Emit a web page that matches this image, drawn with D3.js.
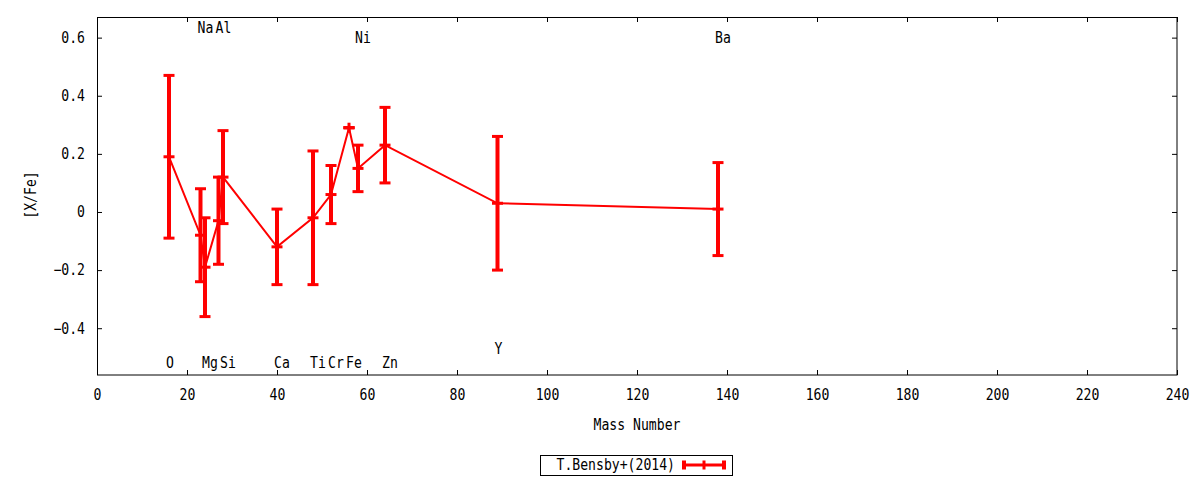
<!DOCTYPE html>
<html>
<head>
<meta charset="utf-8">
<script src="https://cdn.jsdelivr.net/npm/d3@7"></script>
<style>
  body { margin: 0; background: #fff; }
  svg text { font-family: "DejaVu Sans Mono", monospace; font-size: 15px; fill: #000; }
</style>
</head>
<body>
<div id="chart"></div>
<script>
// element abundances, T.Bensby+(2014)
var elements = ["O", "Na", "Mg", "Al", "Si", "Ca", "Ti", "Cr", "Fe", "Ni", "Zn", "Y", "Ba"];
var massNumbers = [16, 23, 24, 27, 28, 40, 48, 52, 56, 58, 64, 89, 138];
var xfeValues = [0.19, -0.08, -0.19, -0.03, 0.12, -0.12, -0.02, 0.06, 0.29, 0.15, 0.23, 0.03, 0.01];
var xfeErrors = [0.28, 0.16, 0.17, 0.15, 0.16, 0.13, 0.23, 0.10, 0.0, 0.08, 0.13, 0.23, 0.16];
// where each element name sits on the [X/Fe] scale
var labelLevels = [-0.52, 0.635, -0.52, 0.635, -0.52, -0.52, -0.52, -0.52, -0.52, 0.60, -0.52, -0.47, 0.60];

var xTicks = [0, 20, 40, 60, 80, 100, 120, 140, 160, 180, 200, 220, 240];
var yTicks = [-0.4, -0.2, 0, 0.2, 0.4, 0.6];
var seriesName = "T.Bensby+(2014)";

var svgWidth = 1200;
var svgHeight = 480;
var charWidth = 7.9;

var margin = {
   top: 17,
   right: 23,
   bottom: 105,
   left: 97
};

var width = svgWidth - margin.left - margin.right;
var height = svgHeight - margin.top - margin.bottom;

var svg = d3.select("#chart")
   .append("svg")
   .attr("width", svgWidth)
   .attr("height", svgHeight);

var chartGroup = svg.append("g")
   .attr("transform", `translate(${margin.left}, ${margin.top})`);

var data = elements.map(function (el, i) {
   return { name: el, mass: massNumbers[i], value: xfeValues[i], err: xfeErrors[i], labelY: labelLevels[i] };
});

// squeeze text to the narrow gnuplot look
function condense(sel) {
   sel.each(function () {
      var t = d3.select(this);
      var s = t.text();
      if (s.length) t.attr("textLength", s.length * charWidth).attr("lengthAdjust", "spacingAndGlyphs");
   });
}

// scales
var xScale = d3.scaleLinear().domain([0, 240]).range([0, width]);
var yScale = d3.scaleLinear().domain([-0.561, 0.671]).range([height, 0]);

var fmtY = function (d) { return d === 0 ? "0" : d3.format(".1f")(d); };

// axes, ticks pointing inward on all four sides
chartGroup.append("g")
   .attr("transform", `translate(0, ${height})`)
   .call(d3.axisBottom(xScale).tickValues(xTicks).tickSizeInner(-5).tickSizeOuter(0).tickPadding(14))
   .call(g => g.select(".domain").remove());

chartGroup.append("g")
   .call(d3.axisTop(xScale).tickValues(xTicks).tickSizeInner(-5).tickSizeOuter(0).tickFormat(""))
   .call(g => g.select(".domain").remove());

chartGroup.append("g")
   .call(d3.axisLeft(yScale).tickValues(yTicks).tickSizeInner(-5).tickSizeOuter(0).tickPadding(12).tickFormat(fmtY))
   .call(g => g.select(".domain").remove());

chartGroup.append("g")
   .attr("transform", `translate(${width}, 0)`)
   .call(d3.axisRight(yScale).tickValues(yTicks).tickSizeInner(-5).tickSizeOuter(0).tickFormat(""))
   .call(g => g.select(".domain").remove());

chartGroup.selectAll(".tick line").attr("stroke", "#000");
chartGroup.selectAll(".tick text").style("font-size", "15px").attr("font-family", null).call(condense);

// frame
chartGroup.append("rect")
   .attr("x", 0.5)
   .attr("y", 0.5)
   .attr("width", width - 0.5)
   .attr("height", height - 0.5)
   .attr("fill", "none")
   .attr("stroke", "#000")
   .attr("stroke-width", 1);

// axis titles
chartGroup.append("text")
   .attr("x", width / 2)
   .attr("y", height + 50)
   .attr("text-anchor", "middle")
   .attr("dy", "0.35em")
   .text("Mass Number")
   .call(condense);

svg.append("text")
   .attr("transform", `translate(31, 195) rotate(-90)`)
   .attr("text-anchor", "middle")
   .attr("dy", "0.35em")
   .text("[X/Fe]")
   .call(condense);

// connecting line
var line = d3.line()
   .x(d => xScale(d.mass))
   .y(d => yScale(d.value));

chartGroup.append("path")
   .datum(data)
   .attr("d", line)
   .attr("fill", "none")
   .attr("stroke", "#ff0000")
   .attr("stroke-width", 2);

// error bars
var bars = chartGroup.selectAll(".ebar")
   .data(data)
   .enter()
   .append("g")
   .attr("class", "ebar");

bars.append("line")
   .attr("x1", d => xScale(d.mass))
   .attr("x2", d => xScale(d.mass))
   .attr("y1", d => yScale(d.value + d.err) - 5)
   .attr("y2", d => yScale(d.value - d.err) + 5)
   .attr("stroke", "#ff0000")
   .attr("stroke-width", 3)
   .attr("opacity", d => d.err === 0 ? 1 : 0);

bars.append("line")
   .attr("x1", d => xScale(d.mass))
   .attr("x2", d => xScale(d.mass))
   .attr("y1", d => yScale(d.value + d.err))
   .attr("y2", d => yScale(d.value - d.err))
   .attr("stroke", "#ff0000")
   .attr("stroke-width", 4);

[1, -1, 0].forEach(function (k) {
   bars.append("line")
      .attr("x1", d => xScale(d.mass) - 5.5)
      .attr("x2", d => xScale(d.mass) + 5.5)
      .attr("y1", d => yScale(d.value + k * d.err))
      .attr("y2", d => yScale(d.value + k * d.err))
      .attr("stroke", "#ff0000")
      .attr("stroke-width", 3);
});

// element names
chartGroup.selectAll(".elabel")
   .data(data)
   .enter()
   .append("text")
   .attr("class", "elabel")
   .attr("x", d => xScale(d.mass) - 3)
   .attr("y", d => yScale(d.labelY))
   .attr("dy", "0.35em")
   .attr("text-anchor", "start")
   .text(d => d.name)
   .call(condense);

// legend
var legend = svg.append("g");
legend.append("rect")
   .attr("x", 540.5)
   .attr("y", 455.5)
   .attr("width", 192)
   .attr("height", 20)
   .attr("fill", "none")
   .attr("stroke", "#000");
legend.append("text")
   .attr("x", 675)
   .attr("y", 465)
   .attr("dy", "0.35em")
   .attr("text-anchor", "end")
   .text(seriesName)
   .call(condense);
legend.append("line")
   .attr("x1", 683).attr("x2", 725)
   .attr("y1", 465).attr("y2", 465)
   .attr("stroke", "#ff0000")
   .attr("stroke-width", 3);
[684, 704, 724].forEach(function (xp) {
   legend.append("line")
      .attr("x1", xp).attr("x2", xp)
      .attr("y1", 460.5).attr("y2", 469.5)
      .attr("stroke", "#ff0000")
      .attr("stroke-width", xp === 704 ? 3 : 4);
});
</script>
</body>
</html>
